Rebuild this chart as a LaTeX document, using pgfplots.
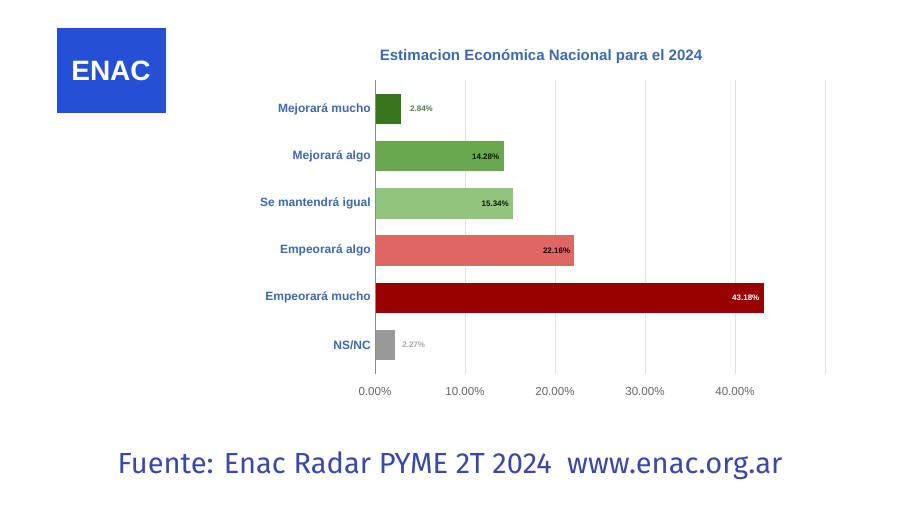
\documentclass[border=0pt]{standalone}
\usepackage{fontspec}
\setmainfont{Liberation Sans}
\newfontfamily\fira{Fira Sans}
\usepackage{pgfplots}
\pgfplotsset{compat=1.18}
\definecolor{titleblue}{HTML}{3D6AAE}
\definecolor{logoblue}{HTML}{2550D5}
\definecolor{footblue}{HTML}{3A48A8}
\definecolor{cA}{HTML}{38761D}
\definecolor{cB}{HTML}{6AA84F}
\definecolor{cC}{HTML}{93C47D}
\definecolor{cD}{HTML}{E06666}
\definecolor{cE}{HTML}{990000}
\definecolor{cF}{HTML}{999999}
\begin{document}
\begin{tikzpicture}
\path[use as bounding box, fill=white] (0pt,0pt) rectangle (675pt,-378.75pt);
\begin{scope}[x=0.75pt,y=-0.75pt]
\fill[logoblue] (57,28) rectangle (166,113);
\node[text=white,font=\fontsize{21}{24}\selectfont\bfseries] at (111,71) {ENAC};
\node[text=titleblue,font=\fontsize{11.3}{13}\selectfont\bfseries] at (541,57) {Estimacion Económica Nacional para el 2024};
\node[text=footblue,font=\fira\fontsize{21.8}{25}\selectfont] at (450,466) {Fuente: Enac Radar PYME 2T 2024\ \ www.enac.org.ar};
\end{scope}
\begin{axis}[
  at={(281.25pt,-60pt)}, anchor=north west,
  scale only axis, width=337.5pt, height=220.5pt,
  xbar, bar width=0.64, bar shift=0pt,
  xmin=0, xmax=50, ymin=-0.62, ymax=5.62, y dir=reverse,
  xtick={0,10,20,30,40,50},
  xticklabels={0.00\%,10.00\%,20.00\%,30.00\%,40.00\%,{}},
  ytick={0,1,2,3,4,5},
  yticklabels={Mejorará mucho,Mejorará algo,Se mantendrá igual,Empeorará algo,Empeorará mucho,NS/NC},
  axis line style={draw=none},
  major tick length=0pt,
  xmajorgrids, major grid style={draw=black!12, line width=0.6pt},
  x tick label style={font=\fontsize{8.7}{10}\selectfont, text=black!60, inner sep=0pt, anchor=north, yshift=-10pt},
  y tick label style={font=\fontsize{9}{11}\selectfont\bfseries, text=titleblue, inner sep=0pt, anchor=east, xshift=-3pt},
  /pgf/number format/assume math mode=true,
  point meta=x,
  nodes near coords={\pgfmathprintnumber[fixed,precision=2,fixed zerofill,assume math mode=true]{\pgfplotspointmeta}\%},
  every node near coord/.append style={font=\fontsize{6}{7}\selectfont\bfseries, inner sep=0pt},
  clip=false,
]
\addplot[fill=cA, draw=none, every node near coord/.append style={anchor=west, xshift=7pt, text=cA!60!gray}] coordinates {(2.84,0)};
\addplot[fill=cB, draw=none, every node near coord/.append style={anchor=east, xshift=-3pt, text=black!80!cA}] coordinates {(14.28,1)};
\addplot[fill=cC, draw=none, every node near coord/.append style={anchor=east, xshift=-3pt, text=black!80!cA}] coordinates {(15.34,2)};
\addplot[fill=cD, draw=none, every node near coord/.append style={anchor=east, xshift=-3pt, text=black!85!cE}] coordinates {(22.16,3)};
\addplot[fill=cE, draw=none, every node near coord/.append style={anchor=east, xshift=-3pt, text=white}] coordinates {(43.18,4)};
\addplot[fill=cF, draw=none, every node near coord/.append style={anchor=west, xshift=5pt, text=black!35}] coordinates {(2.27,5)};
\draw[black!45, line width=0.7pt] (axis cs:0,-0.62) -- (axis cs:0,5.62);
\end{axis}
\end{tikzpicture}
\end{document}
